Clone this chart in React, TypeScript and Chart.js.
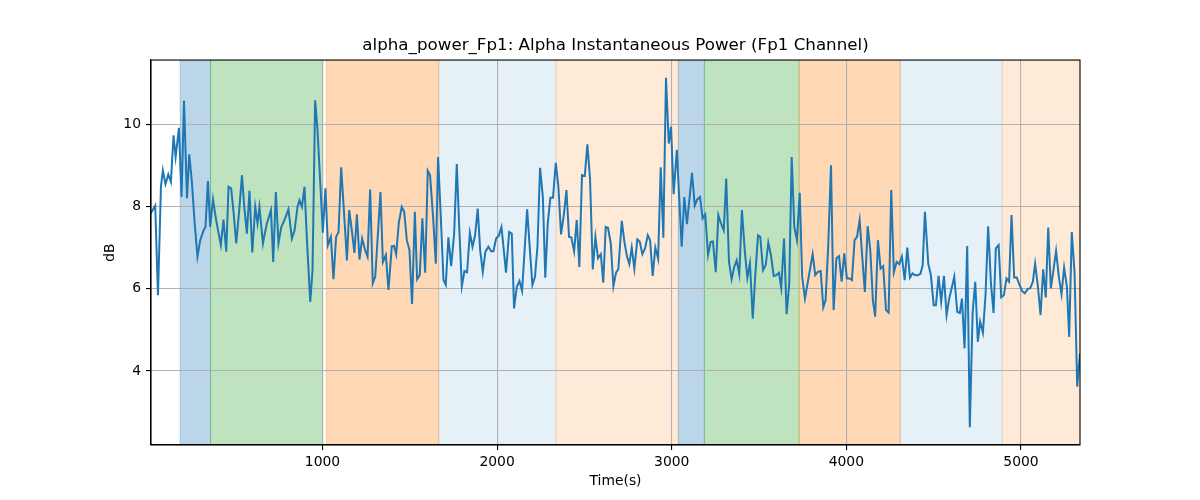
import React, { useEffect, useRef } from "react";
import { Chart, registerables } from "chart.js";

Chart.register(...registerables);

const timeS = [
  18, 42, 58, 75, 86, 101, 117, 132, 147, 159, 178, 193, 207, 224, 237, 252, 268, 284, 300, 319,
  330, 344, 357, 373, 391, 405, 418, 433, 449, 462, 477, 492, 506, 523, 539, 552, 567, 582, 598, 615,
  628, 639, 659, 670, 682, 705, 718, 733, 748, 764, 775, 786, 805, 825, 840, 857, 868, 882, 897, 912,
  930, 943, 958, 971, 987, 1002, 1017, 1031, 1048, 1063, 1078, 1092, 1107, 1120, 1130, 1140, 1153, 1168, 1183, 1197,
  1212, 1227, 1244, 1258, 1273, 1288, 1302, 1317, 1332, 1346, 1363, 1378, 1397, 1410, 1422, 1437, 1454, 1468, 1483, 1498,
  1513, 1529, 1542, 1557, 1572, 1588, 1603, 1616, 1634, 1649, 1662, 1678, 1693, 1706, 1721, 1737, 1754, 1769, 1782, 1798,
  1813, 1828, 1844, 1859, 1874, 1889, 1903, 1918, 1933, 1950, 1966, 1979, 1994, 2010, 2025, 2038, 2051, 2069, 2084, 2097,
  2113, 2128, 2143, 2157, 2172, 2187, 2202, 2217, 2231, 2246, 2262, 2276, 2290, 2305, 2320, 2336, 2351, 2366, 2382, 2397,
  2412, 2425, 2441, 2456, 2471, 2486, 2502, 2517, 2532, 2548, 2563, 2578, 2594, 2608, 2622, 2635, 2651, 2666, 2681, 2694,
  2714, 2729, 2744, 2757, 2771, 2786, 2803, 2817, 2832, 2847, 2863, 2876, 2891, 2906, 2922, 2937, 2952, 2967, 2983, 2996,
  3011, 3029, 3043, 3057, 3072, 3087, 3102, 3116, 3132, 3146, 3162, 3177, 3192, 3208, 3223, 3236, 3252, 3267, 3282, 3298,
  3312, 3328, 3343, 3358, 3372, 3387, 3402, 3418, 3433, 3448, 3464, 3478, 3494, 3507, 3523, 3538, 3553, 3568, 3584, 3599,
  3614, 3627, 3643, 3658, 3673, 3687, 3702, 3717, 3733, 3747, 3763, 3778, 3793, 3807, 3822, 3837, 3853, 3868, 3881, 3896,
  3912, 3927, 3943, 3958, 3973, 3988, 4003, 4019, 4032, 4047, 4061, 4076, 4091, 4106, 4122, 4137, 4152, 4165, 4181, 4196,
  4211, 4227, 4242, 4257, 4272, 4288, 4303, 4318, 4334, 4349, 4364, 4379, 4394, 4410, 4425, 4437, 4450, 4469, 4484, 4500,
  4513, 4528, 4543, 4559, 4574, 4589, 4603, 4618, 4635, 4650, 4662, 4677, 4692, 4707, 4723, 4738, 4753, 4766, 4782, 4797,
  4812, 4828, 4843, 4856, 4872, 4887, 4902, 4917, 4932, 4946, 4961, 4976, 4992, 5007, 5022, 5038, 5053, 5068, 5081, 5097,
  5112, 5127, 5142, 5156, 5171, 5187, 5201, 5217, 5232, 5247, 5263, 5276, 5291, 5307, 5322, 5338,
];

const alphaDb = [
  7.84, 8.02, 5.84, 8.49, 8.88, 8.54, 8.78, 8.6, 9.73, 9.2, 9.91, 8.23, 10.57, 8.2, 9.27, 8.6, 7.6, 6.78, 7.18, 7.42,
  7.5, 8.62, 7.5, 8.17, 7.67, 7.35, 7.06, 7.68, 6.9, 8.48, 8.44, 7.8, 7.1, 7.9, 8.76, 8.0, 7.34, 8.38, 6.88, 7.99,
  7.59, 7.99, 7.1, 7.35, 7.59, 7.91, 6.65, 8.35, 7.1, 7.5, 7.6, 7.71, 7.93, 7.22, 7.42, 7.99, 8.15, 7.99, 8.48, 7.1,
  5.68, 6.45, 10.58, 9.89, 8.6, 7.36, 8.44, 7.06, 7.26, 6.23, 7.26, 7.38, 8.95, 8.07, 7.4, 6.69, 7.91, 7.42, 6.87, 7.81,
  6.71, 7.22, 6.94, 6.78, 8.41, 6.13, 6.29, 7.3, 8.35, 6.65, 6.82, 5.97, 7.03, 7.04, 6.84, 7.6, 7.99, 7.87, 7.18, 6.94,
  5.63, 7.87, 6.23, 6.33, 7.71, 6.39, 8.87, 8.76, 7.7, 6.61, 9.2, 7.7, 6.21, 6.09, 7.25, 6.55, 7.34, 9.03, 7.6, 6.06,
  6.43, 6.4, 7.36, 7.02, 7.3, 7.95, 6.94, 6.41, 6.9, 7.02, 6.91, 6.91, 7.22, 7.29, 7.5, 6.95, 6.39, 7.38, 7.34, 5.52,
  6.05, 6.19, 5.95, 6.9, 7.93, 7.0, 6.09, 6.29, 7.02, 8.94, 8.23, 6.27, 7.59, 8.21, 8.21, 9.06, 8.48, 7.32, 7.79, 8.4,
  7.26, 7.25, 6.91, 7.67, 6.53, 8.76, 8.74, 9.51, 8.68, 6.47, 7.26, 6.74, 6.84, 6.15, 7.5, 7.48, 7.1, 6.06, 6.39, 6.47,
  7.65, 7.14, 6.78, 6.6, 7.0, 6.49, 7.2, 7.14, 6.84, 6.98, 7.3, 7.18, 6.31, 7.0, 6.73, 8.95, 7.24, 11.13, 9.53, 9.94,
  8.3, 9.38, 8.2, 7.02, 8.23, 7.57, 8.2, 8.82, 8.02, 8.17, 8.23, 7.71, 7.81, 6.82, 7.14, 7.15, 6.4, 7.79, 7.59, 7.42,
  8.68, 6.65, 6.23, 6.53, 6.69, 6.35, 7.91, 6.94, 6.27, 6.62, 5.27, 6.29, 7.3, 7.26, 6.45, 6.57, 7.12, 6.82, 6.31, 6.33,
  6.39, 6.02, 7.22, 5.38, 6.13, 9.2, 7.5, 7.18, 8.33, 6.29, 5.76, 6.13, 6.5, 6.84, 6.33, 6.41, 6.43, 5.55, 5.72, 7.02,
  9.0, 5.48, 6.74, 6.79, 6.17, 6.86, 6.25, 6.25, 6.21, 7.18, 7.26, 7.67, 6.78, 5.92, 7.52, 6.94, 5.72, 5.32, 7.18, 6.49,
  6.55, 5.48, 5.42, 8.4, 6.4, 6.65, 6.6, 6.78, 6.21, 7.0, 6.27, 6.37, 6.33, 6.33, 6.37, 6.57, 7.87, 6.61, 6.33, 5.6,
  5.6, 6.31, 5.68, 6.31, 5.36, 5.76, 6.01, 6.29, 5.44, 5.41, 5.76, 4.55, 7.04, 2.63, 5.4, 6.17, 4.71, 5.2, 4.93, 5.84,
  7.52, 6.13, 5.41, 6.98, 7.06, 5.79, 5.84, 6.25, 6.17, 7.79, 6.27, 6.27, 6.09, 5.94, 5.89, 5.99, 6.01, 6.17, 6.61, 6.05,
  5.36, 6.47, 5.79, 7.49, 6.01, 6.49, 6.92, 6.29, 5.87, 6.51, 6.05, 4.83, 7.38, 6.37, 3.62, 4.43,
];

const xTicks = [1000, 2000, 3000, 4000, 5000];
const yTicks = [4, 6, 8, 10];
const xRange = [18, 5338];
const yRange = [2.2, 11.56];

// shaded segments (seconds)
const bandStarts = [185, 359, 1021, 1666, 2338, 3038, 3187, 3730, 4309, 4892];
const bandEnds = [359, 1002, 1666, 2338, 3038, 3187, 3730, 4309, 4892, 5338];
const bandKinds = ["blue", "green", "orange", "lightBlue", "lightOrange", "blue", "green", "orange", "lightBlue", "lightOrange"];

const BAND_COLORS: Record<string, string> = {
  blue: "rgba(31,119,180,0.3)",
  green: "rgba(44,160,44,0.3)",
  orange: "rgba(255,127,14,0.3)",
  lightBlue: "rgba(31,119,180,0.11)",
  lightOrange: "rgba(255,127,14,0.16)",
};

const FONT = "'DejaVu Sans', sans-serif";

export default function App() {
  const ref = useRef<HTMLCanvasElement | null>(null);

  useEffect(() => {
    const canvas = ref.current;
    if (!canvas) return;

    const bandsPlugin = {
      id: "bands",
      beforeDraw(chart: any) {
        const { ctx, chartArea, scales } = chart;
        const xs = scales.x;
        ctx.save();
        ctx.beginPath();
        ctx.rect(chartArea.left, chartArea.top, chartArea.right - chartArea.left, chartArea.bottom - chartArea.top);
        ctx.clip();
        for (let i = 0; i < bandStarts.length; i++) {
          const x0 = xs.getPixelForValue(bandStarts[i]);
          const x1 = xs.getPixelForValue(bandEnds[i]);
          const c = BAND_COLORS[bandKinds[i]];
          ctx.fillStyle = c;
          ctx.fillRect(x0, chartArea.top, x1 - x0, chartArea.bottom - chartArea.top);
          ctx.strokeStyle = c;
          ctx.lineWidth = 1;
          ctx.beginPath();
          ctx.moveTo(x0, chartArea.top);
          ctx.lineTo(x0, chartArea.bottom);
          ctx.moveTo(x1, chartArea.top);
          ctx.lineTo(x1, chartArea.bottom);
          ctx.stroke();
        }
        ctx.restore();
      },
    };

    const framePlugin = {
      id: "frame",
      afterDatasetsDraw(chart: any) {
        const { ctx, chartArea } = chart;
        ctx.save();
        ctx.strokeStyle = "#000";
        ctx.lineWidth = 1.1;
        ctx.strokeRect(chartArea.left, chartArea.top, chartArea.right - chartArea.left, chartArea.bottom - chartArea.top);
        ctx.restore();
      },
    };

    const points = timeS.map((t, i) => ({ x: t, y: alphaDb[i] }));

    const chart = new Chart(canvas, {
      type: "line",
      data: {
        datasets: [
          {
            data: points,
            borderColor: "#1f77b4",
            borderWidth: 2,
            pointRadius: 0,
            tension: 0,
            fill: false,
          },
        ],
      },
      options: {
        animation: false,
        responsive: false,
        devicePixelRatio: 1,
        layout: { padding: { left: 0, right: 120, top: 0, bottom: 0 } },
        plugins: {
          legend: { display: false },
          tooltip: { enabled: false },
          title: {
            display: true,
            text: "alpha_power_Fp1: Alpha Instantaneous Power (Fp1 Channel)",
            color: "#000",
            font: { family: FONT, size: 16.7, weight: "normal", lineHeight: 1.2 },
            padding: { top: 36, bottom: 4 },
            fullSize: false,
          },
        },
        scales: {
          x: {
            type: "linear",
            min: xRange[0],
            max: xRange[1],
            afterBuildTicks: (s: any) => {
              s.ticks = xTicks.map((v) => ({ value: v }));
            },
            afterFit: (s: any) => {
              s.height = 55;
            },
            grid: {
              color: "#b0b0b0",
              lineWidth: 1.1,
              tickColor: "#000",
              tickLength: 5,
              tickWidth: 1.1,
            },
            border: { color: "#000", width: 1.1 },
            ticks: {
              color: "#000",
              font: { family: FONT, size: 13.9 },
              padding: 4,
              maxRotation: 0,
              autoSkip: false,
              callback: (v: any) => String(v),
            },
            title: {
              display: true,
              text: "Time(s)",
              color: "#000",
              font: { family: FONT, size: 13.9, lineHeight: 1.2 },
              padding: { top: 0, bottom: 10.7 },
            },
          },
          y: {
            type: "linear",
            min: yRange[0],
            max: yRange[1],
            afterBuildTicks: (s: any) => {
              s.ticks = yTicks.map((v) => ({ value: v }));
            },
            afterFit: (s: any) => {
              s.width = 151;
            },
            grid: {
              color: "#b0b0b0",
              lineWidth: 1.1,
              tickColor: "#000",
              tickLength: 5,
              tickWidth: 1.1,
            },
            border: { color: "#000", width: 1.1 },
            ticks: {
              color: "#000",
              font: { family: FONT, size: 13.9 },
              padding: 5,
              autoSkip: false,
              callback: (v: any) => String(v),
            },
            title: {
              display: true,
              text: "dB",
              color: "#000",
              font: { family: FONT, size: 13.9, lineHeight: 1.2 },
              padding: { top: 101.7, bottom: 0 },
            },
          },
        },
      },
      plugins: [bandsPlugin, framePlugin],
    });

    return () => {
      chart.destroy();
    };
  }, []);

  return (
    <div style={{ position: "fixed", left: 0, top: 0, width: 1200, height: 500, background: "#fff" }}>
      <canvas ref={ref} width={1200} height={500} style={{ width: 1200, height: 500, display: "block" }} />
    </div>
  );
}
